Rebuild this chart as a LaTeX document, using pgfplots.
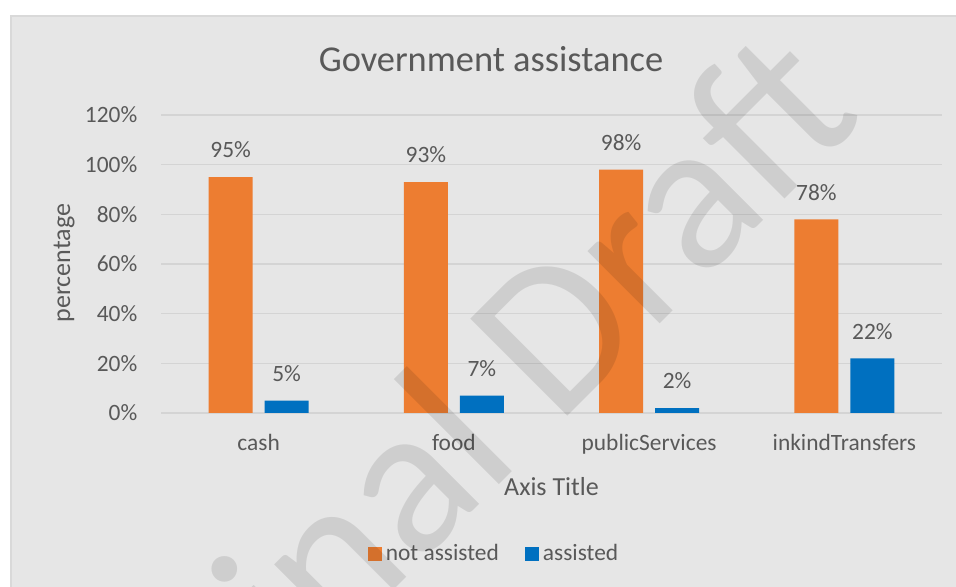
\documentclass[border=0pt]{standalone}
\usepackage{fontspec}
\setmainfont{Carlito}
\usepackage{pgfplots}
\pgfplotsset{compat=1.18}
\definecolor{txt}{HTML}{595959}
\definecolor{bg}{HTML}{E6E6E6}
\definecolor{gridc}{HTML}{D4D4D4}
\definecolor{bord}{HTML}{D9D9D9}
\definecolor{orng}{HTML}{ED7D31}
\definecolor{blu}{HTML}{0070C0}
\begin{document}
\begin{tikzpicture}
\fill[white] (0,0) rectangle (478pt,293.5pt);
\fill[bg] (5.5pt,0) rectangle (478pt,285.5pt);
\draw[bord, line width=0.75pt] (5.5pt,0) -- (5.5pt,285.5pt) -- (478pt,285.5pt);
\begin{axis}[
  at={(80.5pt,87pt)}, anchor=south west,
  scale only axis, width=390.5pt, height=149pt,
  ybar, bar width=22pt,
  xmin=-0.5, xmax=3.5, ymin=0, ymax=120,
  xtick={0,1,2,3}, xticklabels={cash,food,publicServices,inkindTransfers},
  ytick={0,20,40,60,80,100,120},
  yticklabels={0\%,20\%,40\%,60\%,80\%,100\%,120\%},
  /pgf/number format/assume math mode=true,
  axis line style={draw=none}, major tick length=0pt, tick style={draw=none},
  ymajorgrids, grid style={gridc, line width=0.8pt},
  ticklabel style={font=\fontsize{11.7}{14}\selectfont, text=txt},
  yticklabel style={anchor=east, inner sep=0pt, xshift=-11.65pt},
  xticklabel style={anchor=base, inner sep=0pt, yshift=-19pt},
  every axis title shift=0pt,
  title={Government assistance},
  title style={at={(axis description cs:0.4225,1.1453)}, anchor=base, inner sep=0pt, font=\fontsize{18.2}{22}\selectfont, text=txt},
  xlabel={Axis Title},
  xlabel style={at={(axis description cs:0.5,-0.2785)}, anchor=base, inner sep=0pt, font=\fontsize{13}{16}\selectfont, text=txt},
  ylabel={percentage},
  ylabel style={at={(axis description cs:-0.1165,0.503)}, anchor=base, inner sep=0pt, font=\fontsize{13}{16}\selectfont, text=txt},
  nodes near coords={\pgfmathprintnumber{\pgfplotspointmeta}\%},
  every node near coord/.append style={font=\fontsize{11.7}{14}\selectfont, text=txt, inner sep=0pt, yshift=9.25pt},
  legend style={at={(axis description cs:0.4277,-0.4732)}, anchor=center, draw=none, fill=none,
    legend columns=2, font=\fontsize{11.7}{14}\selectfont, text=txt,
    /tikz/every even column/.append style={column sep=11pt}},
  legend image code/.code={\fill[#1] (0pt,-3.5pt) rectangle (7pt,3.5pt);},
]
\addplot[fill=orng, draw=none, bar shift=-14pt] coordinates {(0,95) (1,93) (2,98) (3,78)};
\addplot[fill=blu, draw=none, bar shift=14pt] coordinates {(0,5) (1,7) (2,2) (3,22)};
\legend{not assisted, assisted}
\end{axis}
\begin{scope}
\clip (0,0) rectangle (478pt,293.5pt);
\node[rotate=45, anchor=base west, inner sep=0pt, font=\fontsize{107}{120}\selectfont, text=black, text opacity=0.1] at (21.5pt,-177pt) {Original Draft};
\end{scope}
\pgfresetboundingbox
\useasboundingbox (0,0) rectangle (478pt,293.5pt);
\end{tikzpicture}
\end{document}
